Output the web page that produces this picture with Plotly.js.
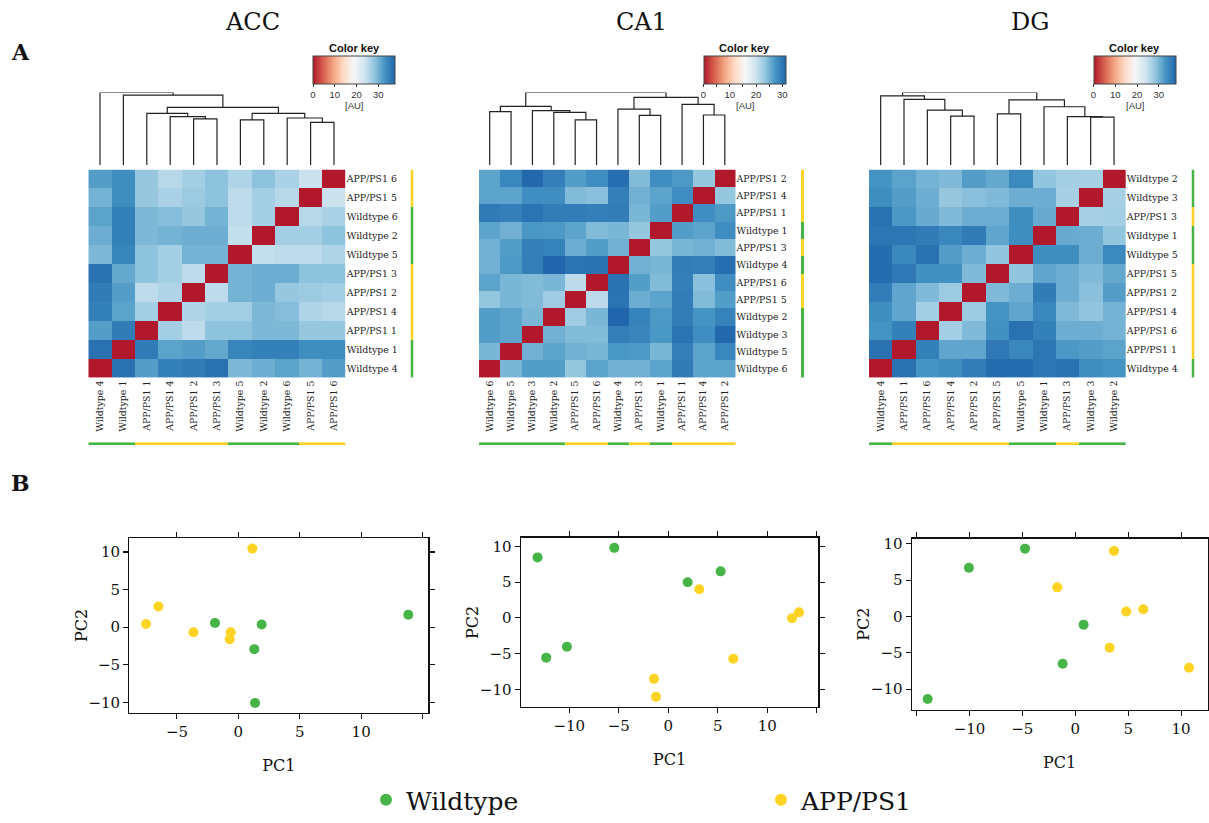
<!DOCTYPE html>
<html><head><meta charset="utf-8">
<script src="https://cdn.plot.ly/plotly-3.0.1.min.js"></script>
<style>html,body{margin:0;padding:0;background:#fff;}#chart{width:1209px;height:823px;}</style>
</head><body><div id="chart"></div>
<script>
// ---------------- DATA ----------------
const regions = ['ACC', 'CA1', 'DG'];

// ACC distance heatmap
const accCols = ['Wildtype 4','Wildtype 1','APP/PS1 1','APP/PS1 4','APP/PS1 2','APP/PS1 3','Wildtype 5','Wildtype 2','Wildtype 6','APP/PS1 5','APP/PS1 6'];
const accRows = ['APP/PS1 6','APP/PS1 5','Wildtype 6','Wildtype 2','Wildtype 5','APP/PS1 3','APP/PS1 2','APP/PS1 4','APP/PS1 1','Wildtype 1','Wildtype 4'];
const accZ = [
  [32, 33.5, 28, 25.5, 27, 28.5, 26, 28.5, 26.5, 24, 0],
  [30, 33.5, 28, 26.5, 27.5, 28.5, 25, 27, 25.5, 0, 24],
  [31.5, 35, 29.5, 29, 28, 30, 25, 27, 0, 25.5, 26.5],
  [30.5, 35, 29.5, 30, 30.5, 30.5, 24.5, 0, 27, 27, 28.5],
  [29.5, 34.5, 28.5, 27, 30, 30, 0, 24.5, 25, 25, 26],
  [36.5, 31, 28.5, 27, 25, 0, 30, 30.5, 30.5, 28.5, 28.5],
  [35.5, 32, 25, 26, 0, 25, 30, 30.5, 28, 27.5, 27],
  [35, 31.5, 27, 0, 26, 27, 27, 29.5, 29, 26, 25.5],
  [32, 35.5, 0, 27, 25, 28.5, 28.5, 29.5, 29.5, 28, 28],
  [36.5, 0, 35.5, 31.5, 32, 31, 34.5, 35, 35, 33.5, 33.5],
  [0, 36.5, 32, 35, 35.5, 36.5, 29.5, 30.5, 31.5, 30, 32]
];
// dendrogram: [left, right, mergeHeight], leaves are column positions
const accTree = [0, [1, [[2, [3, [4, 5, 140], 147], 157], [[6, 7, 137], [8, [9, 10, 130], 143], 157], 175], 212], 220];

// CA1 distance heatmap
const ca1Cols = ['Wildtype 6','Wildtype 5','Wildtype 3','Wildtype 2','APP/PS1 5','APP/PS1 6','Wildtype 4','APP/PS1 3','Wildtype 1','APP/PS1 1','APP/PS1 4','APP/PS1 2'];
const ca1Rows = ['APP/PS1 2','APP/PS1 4','APP/PS1 1','Wildtype 1','APP/PS1 3','Wildtype 4','APP/PS1 6','APP/PS1 5','Wildtype 2','Wildtype 3','Wildtype 5','Wildtype 6'];
const ca1Z = [
  [26, 28.3, 31, 29, 26.5, 27.7, 30.5, 24.2, 27.7, 26.8, 23.2, 0],
  [26, 26, 27.7, 27.7, 24.2, 23.8, 29, 25, 26, 27.7, 0, 23.2],
  [29.5, 29, 30, 29.3, 29.3, 29, 29.3, 24.6, 26.5, 0, 27.7, 26.8],
  [26, 25, 27, 26.8, 26, 24.2, 24.6, 23.2, 0, 26.5, 26, 27.7],
  [25, 26.5, 29, 28.8, 25.3, 26.5, 25, 0, 23.2, 24.6, 25, 24.2],
  [25, 26.8, 29, 31.5, 30, 30.2, 0, 25, 24.6, 29.3, 29, 30.5],
  [26, 24.6, 24.2, 24.6, 20.8, 0, 30.2, 26.5, 24.2, 29, 23.8, 27.7],
  [23.2, 24.6, 24.2, 22.6, 0, 20.8, 30, 25.3, 26, 29.3, 24.2, 26.5],
  [26.5, 26, 24.6, 0, 22.6, 24.6, 31.5, 28.8, 26.8, 29.3, 27.2, 28.8],
  [26.5, 26, 0, 25, 24.2, 24.2, 29, 28.5, 27, 30, 27.7, 31],
  [24.6, 0, 25, 26, 25, 24.6, 27, 26.8, 24.6, 29, 26, 28.3],
  [0, 24.6, 26.5, 26.5, 23.2, 26, 25, 25, 26, 29.5, 26, 26]
];
const ca1Tree = [[[0, 1, 162], [2, [3, [4, 5, 137], 160], 165], 178], [[6, [7, 8, 151], 170], [9, [10, 11, 152], 184], 205], 220];

// DG distance heatmap
const dgCols = ['Wildtype 4','APP/PS1 1','APP/PS1 6','APP/PS1 4','APP/PS1 2','APP/PS1 5','Wildtype 5','Wildtype 1','APP/PS1 3','Wildtype 3','Wildtype 2'];
const dgRows = ['Wildtype 2','Wildtype 3','APP/PS1 3','Wildtype 1','Wildtype 5','APP/PS1 5','APP/PS1 2','APP/PS1 4','APP/PS1 6','APP/PS1 1','Wildtype 4'];
const dgZ = [
  [33, 31.5, 30, 29.3, 32, 31, 34, 28.3, 27, 26.7, 0],
  [33.5, 32, 30.5, 28, 28.7, 29.3, 30.5, 30.5, 26.7, 0, 26.7],
  [36.5, 32.5, 30.8, 29.3, 30.5, 30.5, 33.5, 30.8, 0, 26.7, 27],
  [36, 36, 35.5, 34.2, 35.5, 31.3, 33.5, 0, 30.8, 30.5, 28.3],
  [37, 34.2, 36.5, 32, 30.5, 28.3, 0, 33.5, 33.5, 30.5, 34],
  [37, 35.8, 33.2, 33.2, 29.3, 0, 28.3, 31.3, 30.5, 29.3, 31],
  [35.3, 31.3, 29.3, 27.5, 0, 29.3, 30.5, 35.5, 30.5, 28.7, 32],
  [33.5, 31.3, 27, 0, 27.5, 33, 31.3, 34.2, 29.3, 28.3, 30],
  [33, 35, 0, 27, 29.3, 33.2, 36.5, 35, 30.5, 30.5, 30],
  [36.5, 0, 35, 31.3, 31.3, 35.8, 34.2, 36, 32.5, 32, 31.5],
  [0, 36.5, 33, 33.5, 35.3, 37, 37, 36, 36.5, 33.5, 33]
];
const dgTree = [[0, [1, [2, [3, 4, 145], 163], 195], 205], [[5, 6, 152], [7, [8, [9, 10, 142], 144], 173], 193], 215];

// colour key maxima [AU]
const keyMax = [37.7, 31.2, 37.7];
const keyTicks = [[0, 10, 20, 30], [0, 5, 10, 15, 20, 25, 30], [0, 10, 20, 30]];
const keyTickText = [['0','10','20','30'], ['0','','10','','20','','30'], ['0','10','20','30']];

// PCA scores
const accPC1 = [1.14, -6.51, -7.52, -3.66, -0.62, -0.70, -1.90, 1.90, 1.30, 1.36, 13.84];
const accPC2 = [10.45, 2.75, 0.42, -0.68, -0.68, -1.61, 0.55, 0.35, -2.93, -10.1, 1.65];
const accGrp = ['APP/PS1','APP/PS1','APP/PS1','APP/PS1','APP/PS1','APP/PS1','Wildtype','Wildtype','Wildtype','Wildtype','Wildtype'];

const ca1PC1 = [-13.2, -5.45, 1.96, 5.29, -10.23, -12.32, 3.13, 12.49, 13.2, 6.57, -1.44, -1.24];
const ca1PC2 = [8.45, 9.78, 4.98, 6.5, -4.02, -5.54, 4.01, -0.05, 0.78, -5.68, -8.5, -11.0];
const ca1Grp = ['Wildtype','Wildtype','Wildtype','Wildtype','Wildtype','Wildtype','APP/PS1','APP/PS1','APP/PS1','APP/PS1','APP/PS1','APP/PS1'];

const dgPC1 = [-10.05, -4.75, 0.79, -1.19, -13.95, 3.66, -1.7, 4.82, 6.43, 3.25, 10.75];
const dgPC2 = [6.69, 9.33, -1.13, -6.5, -11.36, 9.0, 4.0, 0.68, 1.0, -4.32, -7.05];
const dgGrp = ['Wildtype','Wildtype','Wildtype','Wildtype','Wildtype','APP/PS1','APP/PS1','APP/PS1','APP/PS1','APP/PS1','APP/PS1'];

const groups = ['Wildtype', 'APP/PS1'];

// ---------------- STYLE / LAYOUT ----------------
const W = 1209, H = 823;
const GREEN = '#46b446', YELLOW = '#fed323';
const SERIF = 'DejaVu Serif, serif';
const SANS = 'Liberation Sans, Arial, sans-serif';
const RdBu = ['#b2182b','#d6604d','#f4a582','#fddbc7','#f7f7f7','#d1e5f0','#92c5de','#4393c3','#2166ac'];
const colorscale = RdBu.map((c, i) => [i / (RdBu.length - 1), c]);

const geo = [
  {hm: [88.3, 345.7], bar: [410.5, 413.5], key: [313, 395], title: 252, sc: [129.3, 428.3], scy: [542.7, 719], xr: [-8.88, 15.47], yr: [-11.41, 11.85], xt: [-5, 0, 5, 10, 15], xtt: ['\u22125','0','5','10','']},
  {hm: [479, 735.5], bar: [801, 804], key: [703.5, 785.5], title: 641, sc: [520.7, 818.3], scy: [542.3, 713.3], xr: [-14.9, 15.15], yr: [-12.46, 11.2], xt: [-10, -5, 0, 5, 10, 15], xtt: ['\u221210','\u22125','0','5','10','']},
  {hm: [869, 1125.7], bar: [1191.5, 1194.5], key: [1093.5, 1175.5], title: 1030, sc: [911.7, 1207.5], scy: [543.3, 715.7], xr: [-15.46, 12.5], yr: [-12.82, 10.7], xt: [-15, -10, -5, 0, 5, 10], xtt: ['','\u221210','\u22125','0','5','10']}
];
const HM_Y = [171, 381], DEN_Y = [93.3, 166.7], BOT_Y = [446, 449];

const heat = [
  {cols: accCols, rows: accRows, z: accZ, tree: accTree},
  {cols: ca1Cols, rows: ca1Rows, z: ca1Z, tree: ca1Tree},
  {cols: dgCols, rows: dgRows, z: dgZ, tree: dgTree}
];
const pca = [
  {x: accPC1, y: accPC2, g: accGrp},
  {x: ca1PC1, y: ca1PC2, g: ca1Grp},
  {x: dgPC1, y: dgPC2, g: dgGrp}
];

const px = (a, b) => [a / W, b / W];
const py = (top, bot) => [1 - bot / H, 1 - top / H];

const layout = {
  width: W, height: H, margin: {l: 0, r: 0, t: 0, b: 0},
  paper_bgcolor: '#fff', plot_bgcolor: 'rgba(0,0,0,0)',
  showlegend: true,
  legend: {orientation: 'h', x: 366 / W, xanchor: 'left', y: 1 - 807 / H, yanchor: 'middle',
           font: {family: SERIF, size: 25, color: '#111'}, itemsizing: 'constant',
           entrywidth: 350, entrywidthmode: 'pixels', bgcolor: 'rgba(0,0,0,0)', borderwidth: 0},
  annotations: [], shapes: []
};
const traces = [];
let axN = 0;
function axes(xdom, ydom, xo, yo) {
  axN++;
  const s = axN === 1 ? '' : String(axN);
  layout['xaxis' + s] = Object.assign({domain: xdom, anchor: 'y' + s, showgrid: false, zeroline: false}, xo);
  layout['yaxis' + s] = Object.assign({domain: ydom, anchor: 'x' + s, showgrid: false, zeroline: false}, yo);
  return {x: 'x' + s, y: 'y' + s};
}
const hidden = {visible: false, fixedrange: true};
const grpVal = l => l.startsWith('Wildtype') ? 0 : 1;

function dendro(node, xs, ys) {
  if (typeof node === 'number') return {x: node, h: 0};
  const a = dendro(node[0], xs, ys), b = dendro(node[1], xs, ys), h = node[2];
  xs.push(a.x, a.x, b.x, b.x, null);
  ys.push(a.h, h, h, b.h, null);
  return {x: (a.x + b.x) / 2, h: h};
}

heat.forEach((d, r) => {
  const g = geo[r];
  const nc = d.cols.length, nr = d.rows.length;
  const ci = d.cols.map((_, i) => i), ri = d.rows.map((_, i) => i);
  // main heatmap
  const a = axes(px(g.hm[0], g.hm[1]), py(HM_Y[0], HM_Y[1]),
    {range: [-0.5, nc - 0.5], tickmode: 'array', tickvals: ci, ticktext: d.cols, tickangle: -90, ticks: '',
     tickfont: {family: SERIF, size: 9.4, color: '#222'}, fixedrange: true},
    {range: [nr - 0.5, -0.5], tickmode: 'array', tickvals: ri, ticktext: d.rows, side: 'right', ticks: '',
     tickfont: {family: SERIF, size: 9.4, color: '#222'}, fixedrange: true});
  traces.push({type: 'heatmap', x: ci, y: ri, z: d.z, xaxis: a.x, yaxis: a.y, zmin: 0, zmax: keyMax[r],
    colorscale: colorscale, showscale: true, hoverinfo: 'z',
    colorbar: {orientation: 'h', x: g.key[0] / W, xanchor: 'left', xref: 'paper', y: 1 - 56.7 / H, yanchor: 'top', yref: 'paper',
      len: g.key[1] - g.key[0], lenmode: 'pixels', thickness: 27.6, thicknessmode: 'pixels', xpad: 0, ypad: 0,
      outlinewidth: 1, outlinecolor: '#444', ticks: 'outside', ticklen: 3, tickwidth: 1, tickcolor: '#333',
      tickmode: 'array', tickvals: keyTicks[r], ticktext: keyTickText[r],
      tickfont: {family: SANS, size: 9.5, color: '#333'}, title: {text: ''}}});
  // dendrogram
  const xs = [], ys = [];
  const root = dendro(d.tree, xs, ys);
  const ad = axes(px(g.hm[0], g.hm[1]), py(DEN_Y[0], DEN_Y[1]),
    Object.assign({range: [-0.5, nc - 0.5]}, hidden), Object.assign({range: [0, root.h]}, hidden));
  traces.push({type: 'scatter', mode: 'lines', x: xs, y: ys, xaxis: ad.x, yaxis: ad.y, showlegend: false,
    hoverinfo: 'skip', line: {color: '#222', width: 1.2}, cliponaxis: false});
  // bottom group bar
  const ab = axes(px(g.hm[0], g.hm[1]), py(BOT_Y[0], BOT_Y[1]),
    Object.assign({range: [-0.5, nc - 0.5]}, hidden), Object.assign({range: [-0.5, 0.5]}, hidden));
  traces.push({type: 'heatmap', x: ci, y: [0], z: [d.cols.map(grpVal)], xaxis: ab.x, yaxis: ab.y,
    zmin: 0, zmax: 1, colorscale: [[0, GREEN], [0.5, GREEN], [0.5, YELLOW], [1, YELLOW]], showscale: false, hoverinfo: 'skip'});
  // right group bar
  const aside = axes(px(g.bar[0], g.bar[1]), py(HM_Y[0], HM_Y[1]),
    Object.assign({range: [-0.5, 0.5]}, hidden), Object.assign({range: [nr - 0.5, -0.5]}, hidden));
  traces.push({type: 'heatmap', x: [0], y: ri, z: d.rows.map(l => [grpVal(l)]), xaxis: aside.x, yaxis: aside.y,
    zmin: 0, zmax: 1, colorscale: [[0, GREEN], [0.5, GREEN], [0.5, YELLOW], [1, YELLOW]], showscale: false, hoverinfo: 'skip'});

  // texts
  layout.annotations.push({text: regions[r], x: g.title / W, y: 1 - 22 / H, xref: 'paper', yref: 'paper',
    showarrow: false, xanchor: 'center', yanchor: 'middle', font: {family: SERIF, size: 24, color: '#111'}});
  layout.annotations.push({text: '<b>Color key</b>', x: (g.key[0] + g.key[1]) / 2 / W, y: 1 - 48.5 / H, xref: 'paper', yref: 'paper',
    showarrow: false, xanchor: 'center', yanchor: 'middle', font: {family: SANS, size: 11, color: '#111'}});
  layout.annotations.push({text: '[AU]', x: (g.key[0] + g.key[1]) / 2 / W, y: 1 - 106 / H, xref: 'paper', yref: 'paper',
    showarrow: false, xanchor: 'center', yanchor: 'middle', font: {family: SANS, size: 9.5, color: '#333'}});
});

// PCA scatter panels
pca.forEach((d, r) => {
  const g = geo[r];
  const axStyle = {showline: true, linecolor: '#111', linewidth: 1.2, mirror: 'ticks', ticks: 'outside', ticklen: 5,
    tickwidth: 1.1, tickcolor: '#111', tickfont: {family: SERIF, size: 15, color: '#111'}, fixedrange: true};
  const a = axes(px(g.sc[0], g.sc[1]), py(g.scy[0], g.scy[1]),
    Object.assign({range: g.xr, tickmode: 'array', tickvals: g.xt, ticktext: g.xtt,
      title: {text: 'PC1', font: {family: SERIF, size: 16, color: '#111'}}}, axStyle),
    Object.assign({range: g.yr, tickmode: 'array', tickvals: [-10, -5, 0, 5, 10],
      ticktext: ['\u221210', '\u22125', '0', '5', '10'],
      title: {text: 'PC2', font: {family: SERIF, size: 16, color: '#111'}}}, axStyle));
  groups.forEach((grp, gi) => {
    const idx = d.g.map((v, i) => v === grp ? i : -1).filter(i => i >= 0);
    traces.push({type: 'scatter', mode: 'markers', name: grp, legendgroup: grp, showlegend: r === 0,
      x: idx.map(i => d.x[i]), y: idx.map(i => d.y[i]), xaxis: a.x, yaxis: a.y, cliponaxis: false,
      marker: {size: 10, color: gi === 0 ? GREEN : YELLOW, line: {width: 0}}});
  });
});

layout.annotations.push({text: '<b>A</b>', x: 20 / W, y: 1 - 52 / H, xref: 'paper', yref: 'paper', showarrow: false,
  xanchor: 'center', yanchor: 'middle', font: {family: SERIF, size: 22, color: '#111'}});
layout.annotations.push({text: '<b>B</b>', x: 20 / W, y: 1 - 487 / H, xref: 'paper', yref: 'paper', showarrow: false,
  xanchor: 'center', yanchor: 'middle', font: {family: SERIF, size: 22, color: '#111'}});

Plotly.newPlot('chart', traces, layout, {displayModeBar: false, staticPlot: true});
</script></body></html>
